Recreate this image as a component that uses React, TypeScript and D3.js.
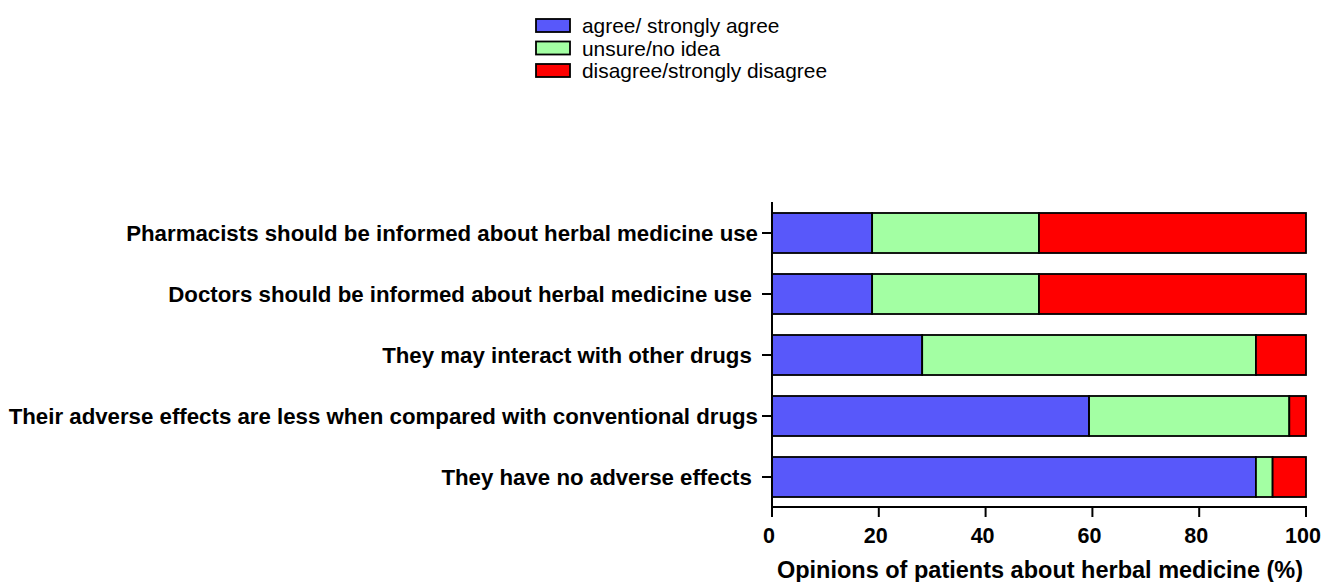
import React from "react";
import * as d3 from "d3";

// Share of patients (%) giving each answer, n = 32
const statements = [
  "Pharmacists should be informed about herbal medicine use",
  "Doctors should be informed about herbal medicine use ",
  "They may interact with other drugs ",
  "Their adverse effects are less when compared with conventional drugs",
  "They have no adverse effects ",
];
const agree = [18.75, 18.75, 28.125, 59.375, 90.625];
const unsure = [31.25, 31.25, 62.5, 37.5, 3.125];
const disagree = [50, 50, 9.375, 3.125, 6.25];

const seriesNames = ["agree/ strongly agree", "unsure/no idea", "disagree/strongly disagree"];
const seriesColors = ["#5858FA", "#A3FFA3", "#FF0000"];
const xTicks = [0, 20, 40, 60, 80, 100];
const xTitle = "Opinions of patients about herbal medicine (%)";

const W = 1323;
const H = 582;
const font = "'Liberation Sans', Arial, Helvetica, sans-serif";

export default function App() {
  const x = d3.scaleLinear().domain([0, 100]).range([772, 1306]);
  const y = d3
    .scaleBand<string>()
    .domain(statements)
    .range([202.5, 507.5])
    .paddingInner(0.344)
    .paddingOuter(0.172);

  const rows = statements.map((s, i) => ({
    key: s,
    agree: agree[i],
    unsure: unsure[i],
    disagree: disagree[i],
  }));
  const stack = d3.stack<any>().keys(["agree", "unsure", "disagree"]);
  const layers = stack(rows);

  const axisY = 507;
  const x0 = x(0);

  return (
    <svg width={W} height={H} style={{ display: "block", position: "absolute", left: 0, top: 0 }}>
      <rect width={W} height={H} fill="#fff" />

      {/* legend */}
      {seriesNames.map((name, i) => {
        const cy = 25.5 + i * 22.5;
        return (
          <g key={name}>
            <rect x={536} y={cy - 6.5} width={34} height={13} fill={seriesColors[i]} stroke="#000" strokeWidth={1.8} />
            <text x={582} y={cy} dy="0.36em" fontFamily={font} fontSize={20.9} fill="#000">
              {name}
            </text>
          </g>
        );
      })}

      {/* stacked bars */}
      {layers.map((layer, li) => (
        <g key={layer.key}>
          {layer.map((d, i) => (
            <rect
              key={i}
              x={x(d[0])}
              y={y(statements[i])!}
              width={x(d[1]) - x(d[0])}
              height={y.bandwidth()}
              fill={seriesColors[li]}
              stroke="#000"
              strokeWidth={1.8}
            />
          ))}
        </g>
      ))}

      {/* y axis */}
      <line x1={x0} x2={x0} y1={202} y2={axisY + 1} stroke="#000" strokeWidth={2} />
      {statements.map((s) => {
        const cy = y(s)! + y.bandwidth() / 2;
        return (
          <g key={s}>
            <line x1={x0 - 10} x2={x0} y1={cy} y2={cy} stroke="#000" strokeWidth={2} />
            <text
              x={x0 - 14}
              y={cy}
              dy="0.36em"
              textAnchor="end"
              fontFamily={font}
              fontWeight="bold"
              fontSize={22.25}
              fill="#000"
              style={{ whiteSpace: "pre" }}
            >
              {s}
            </text>
          </g>
        );
      })}

      {/* x axis */}
      <line x1={x0 - 1} x2={x(100) + 1} y1={axisY} y2={axisY} stroke="#000" strokeWidth={2} />
      {xTicks.map((t) => (
        <g key={t}>
          <line x1={x(t)} x2={x(t)} y1={axisY} y2={axisY + 10} stroke="#000" strokeWidth={2} />
          <text
            x={x(t) - 3}
            y={543}
            textAnchor="middle"
            fontFamily={font}
            fontWeight="bold"
            fontSize={21.5}
            fill="#000"
          >
            {t}
          </text>
        </g>
      ))}
      <text
        x={(x(0) + x(100)) / 2 + 1}
        y={578}
        textAnchor="middle"
        fontFamily={font}
        fontWeight="bold"
        fontSize={23.5}
        fill="#000"
      >
        {xTitle}
      </text>
    </svg>
  );
}
